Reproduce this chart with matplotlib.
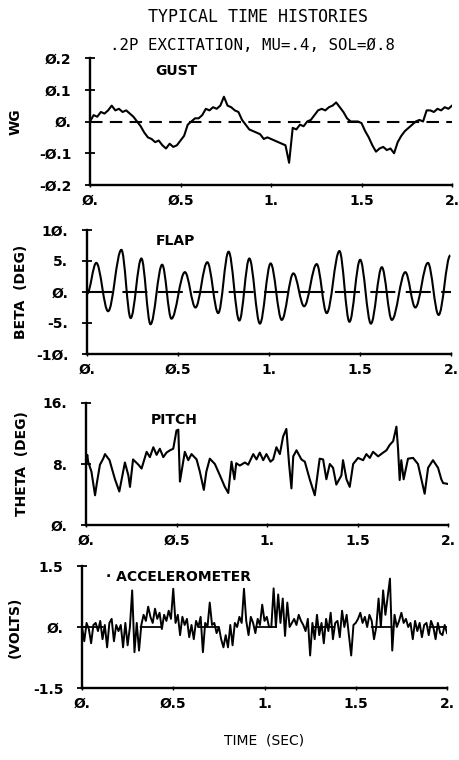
import numpy as np
import matplotlib
matplotlib.use("Agg")
import matplotlib.pyplot as plt
from matplotlib.path import Path
from matplotlib.patches import PathPatch

# gust velocity, sampled every 0.02 s
gust_t = np.arange(0, 2.001, 0.02)
gust_wg = [0.0, 0.02, 0.015, 0.03, 0.025, 0.035, 0.05, 0.035, 0.04, 0.03,
           0.035, 0.025, 0.015, 0.0, -0.015, -0.035, -0.05, -0.055, -0.065, -0.06,
           -0.075, -0.085, -0.07, -0.08, -0.075, -0.06, -0.045, -0.01, 0.0, 0.01,
           0.01, 0.02, 0.04, 0.035, 0.045, 0.04, 0.05, 0.078, 0.05, 0.045,
           0.035, 0.03, 0.005, -0.01, -0.025, -0.03, -0.035, -0.04, -0.055, -0.05,
           -0.055, -0.06, -0.065, -0.07, -0.075, -0.13, -0.02, -0.025, -0.01, -0.015,
           0.0, 0.005, 0.02, 0.035, 0.04, 0.035, 0.045, 0.05, 0.06, 0.045,
           0.03, 0.01, 0.0, 0.0, 0.0, -0.005, -0.03, -0.05, -0.075, -0.095,
           -0.085, -0.08, -0.09, -0.085, -0.1, -0.065, -0.045, -0.03, -0.02, -0.01,
           0.0, 0.005, 0.0, 0.035, 0.035, 0.03, 0.04, 0.035, 0.045, 0.04, 0.05]

# flap angle: start, then alternating peaks and troughs, then end
flap_t = [0.0, 0.051, 0.116, 0.189, 0.240, 0.299, 0.349, 0.413, 0.464, 0.538,
          0.596, 0.661, 0.721, 0.778, 0.837, 0.892, 0.950, 1.009, 1.070, 1.134,
          1.193, 1.262, 1.317, 1.387, 1.442, 1.501, 1.560, 1.620, 1.675, 1.749,
          1.804, 1.873, 1.932, 1.996]
flap_beta = [-0.3, 4.7, -3.1, 6.8, -4.2, 5.4, -5.2, 4.4, -4.3, 3.2,
             -2.5, 4.8, -3.4, 6.5, -4.6, 5.4, -5.1, 4.6, -4.5, 3.0,
             -2.3, 4.5, -3.4, 6.6, -4.8, 5.2, -5.1, 4.0, -4.5, 3.2,
             -2.5, 4.7, -3.7, 5.9]

# pitch angle
pitch_t = [0.0, 0.007, 0.012, 0.03, 0.05, 0.06, 0.077, 0.095, 0.105, 0.13,
           0.16, 0.184, 0.215, 0.234, 0.243, 0.26, 0.29, 0.307, 0.335, 0.353,
           0.372, 0.39, 0.408, 0.427, 0.445, 0.464, 0.482, 0.50, 0.51, 0.519,
           0.528, 0.546, 0.565, 0.583, 0.611, 0.629, 0.651, 0.665, 0.684, 0.712,
           0.74, 0.767, 0.786, 0.804, 0.82, 0.83, 0.85, 0.878, 0.896, 0.924,
           0.942, 0.96, 0.979, 0.997, 1.019, 1.034, 1.052, 1.071, 1.089, 1.107,
           1.122, 1.135, 1.145, 1.163, 1.19, 1.209, 1.236, 1.264, 1.291, 1.31,
           1.328, 1.347, 1.365, 1.383, 1.411, 1.42, 1.439, 1.457, 1.476, 1.503,
           1.531, 1.549, 1.568, 1.586, 1.614, 1.642, 1.66, 1.678, 1.697, 1.715,
           1.724, 1.733, 1.742, 1.755, 1.779, 1.807, 1.834, 1.853, 1.871, 1.89,
           1.917, 1.945, 1.963, 1.973, 1.996]
pitch_theta = [8.0, 9.2, 8.3, 7.0, 3.9, 5.5, 7.9, 8.7, 9.3, 8.5,
               6.0, 4.4, 8.2, 6.5, 5.0, 8.6, 7.9, 7.4, 9.6, 8.9,
               10.2, 9.2, 10.0, 8.9, 9.5, 9.8, 10.0, 12.4, 12.5, 5.7,
               7.0, 9.6, 8.5, 9.3, 8.6, 7.0, 4.6, 7.0, 8.7, 8.0,
               6.5, 5.0, 4.2, 8.3, 6.0, 8.1, 7.8, 8.2, 7.9, 9.3,
               8.6, 9.5, 8.5, 9.3, 8.3, 8.6, 10.2, 9.3, 11.6, 12.6,
               8.0, 4.8, 9.0, 9.8, 8.6, 8.3, 6.0, 3.9, 8.7, 8.6,
               6.0, 8.0, 7.5, 5.3, 6.5, 8.5, 6.0, 5.0, 8.0, 8.8,
               8.5, 9.3, 8.8, 9.6, 9.0, 9.5, 9.8, 10.5, 11.0, 12.9,
               10.0, 5.9, 8.5, 6.0, 8.7, 8.8, 8.0, 6.0, 4.1, 7.5,
               8.5, 7.5, 6.0, 5.5, 5.4]

# accelerometer, sampled every 0.0125 s
accel_t = np.arange(0, 2.0001, 0.0125)
accel_v = [0.0, -0.35, 0.1, -0.05, -0.4, 0.05, 0.1, -0.1,
           0.15, -0.3, 0.05, -0.5, 0.1, 0.2, -0.35, 0.05,
           -0.1, 0.05, -0.5, 0.1, -0.45, 0.0, 0.9, -0.62,
           0.1, -0.58, 0.05, 0.3, 0.15, 0.5, 0.25, 0.1,
           0.45, 0.2, 0.35, -0.05, 0.3, 0.15, 0.4, 0.2,
           0.94, 0.1, 0.3, -0.2, 0.25, 0.05, 0.2, -0.25,
           0.05, -0.3, 0.15, 0.0, 0.25, -0.62, 0.1, 0.0,
           0.6, 0.05, 0.1, -0.15, 0.0, -0.3, -0.5, -0.2,
           -0.5, 0.05, -0.45, 0.1, 0.0, 0.25, 0.1, 0.94,
           0.15, -0.2, 0.25, 0.1, -0.15, 0.2, 0.05, 0.55,
           0.15, 0.25, 0.0, 0.0, 0.95, 0.0, 0.8, 0.1,
           0.7, -0.22, 0.6, 0.0, 0.1, 0.2, 0.05, 0.3,
           0.15, 0.05, -0.1, 0.2, -0.7, 0.1, -0.3, 0.3,
           -0.2, 0.1, -0.4, 0.2, -0.1, 0.35, -0.3, 0.1,
           0.15, -0.25, 0.4, 0.0, 0.3, -0.2, -0.7, 0.05,
           0.1, 0.2, 0.35, 0.1, 0.25, 0.0, 0.3, 0.15,
           -0.3, 0.0, 0.7, 0.0, 0.9, 0.3, 0.75, 1.19,
           -0.58, 0.3, 0.0, 0.15, 0.35, 0.1, 0.2, 0.0,
           0.1, -0.3, 0.15, -0.1, 0.1, -0.25, 0.05, 0.1,
           -0.2, 0.15, 0.0, -0.3, 0.1, -0.15, -0.2, 0.05,
           -0.15]

xticks = [0, 0.5, 1, 1.5, 2]
xticklabels = ["Ø.", "Ø.5", "1.", "1.5", "2."]

gust_ticks = [-0.2, -0.1, 0, 0.1, 0.2]
gust_labels = ["-Ø.2", "-Ø.1", "Ø.", "Ø.1", "Ø.2"]
flap_ticks = [-10, -5, 0, 5, 10]
flap_labels = ["-1Ø.", "-5.", "Ø.", "5.", "1Ø."]
pitch_ticks = [0, 8, 16]
pitch_labels = ["Ø.", "8.", "16."]
accel_ticks = [-1.5, 0, 1.5]
accel_labels = ["-1.5", "Ø.", "1.5"]

W, H = 459, 760
fig = plt.figure(figsize=(W / 100, H / 100), dpi=100)

def px_axes(left, right, top, bottom):
    return fig.add_axes([left / W, 1 - bottom / H, (right - left) / W, (bottom - top) / H])

tick_font = dict(family="DejaVu Sans", weight="bold", size=10)
lab_font = dict(family="DejaVu Sans", weight="bold", size=10)

def style(ax, yt, yl, ylim):
    ax.set_xlim(0, 2)
    ax.set_ylim(*ylim)
    for s in ["top", "right"]:
        ax.spines[s].set_visible(False)
    ax.spines["left"].set_linewidth(1.7)
    ax.spines["bottom"].set_linewidth(1.7)
    ax.set_xticks(xticks)
    ax.set_xticklabels(xticklabels, **tick_font)
    ax.set_yticks(yt)
    ax.set_yticklabels(yl, **tick_font)
    ax.tick_params(axis="y", direction="inout", length=7, width=1.3, pad=10)
    ax.tick_params(axis="x", direction="inout", length=3, width=1.0, pad=5)
    ax.patch.set_visible(False)

def smooth_curve(ax, xs, ys, **kw):
    # smooth pen trace through the extrema, level tangent at each one
    verts = [(xs[0], ys[0])]
    codes = [Path.MOVETO]
    for i in range(1, len(xs)):
        d = xs[i] - xs[i - 1]
        verts += [(xs[i - 1] + 0.36 * d, ys[i - 1]), (xs[i] - 0.36 * d, ys[i]), (xs[i], ys[i])]
        codes += [Path.CURVE4] * 3
    ax.add_patch(PathPatch(Path(verts, codes), fill=False, **kw))

# panel 1: gust
ax1 = px_axes(90, 452, 58, 185)
ax1.plot(gust_t, gust_wg, color="black", lw=1.5)
ax1.axhline(0, color="black", lw=1.5, linestyle=(0, (6, 3.5)))
style(ax1, gust_ticks, gust_labels, (-0.2, 0.2))
ax1.text(0.36, 0.145, "GUST", **lab_font)
ax1.set_ylabel("WG", labelpad=12, **lab_font)

# panel 2: flap
ax2 = px_axes(87, 451, 230, 354)
smooth_curve(ax2, flap_t, flap_beta, edgecolor="black", lw=1.5)
ax2.axhline(0, color="black", lw=1.5, linestyle=(0, (12, 5)))
style(ax2, flap_ticks, flap_labels, (-10, 10))
ax2.text(0.38, 7.6, "FLAP", **lab_font)
ax2.set_ylabel("BETA  (DEG)", labelpad=6, **lab_font)

# panel 3: pitch
ax3 = px_axes(86, 448, 403, 525)
ax3.plot(pitch_t, pitch_theta, color="black", lw=1.5)
style(ax3, pitch_ticks, pitch_labels, (0, 16))
ax3.text(0.36, 13.3, "PITCH", **lab_font)
ax3.set_ylabel("THETA  (DEG)", labelpad=10, **lab_font)

# panel 4: accelerometer
ax4 = px_axes(82, 447, 566, 688)
ax4.plot(accel_t, accel_v, color="black", lw=1.4)
ax4.axhline(0, color="black", lw=1.3, linestyle=(0, (12, 20)))
style(ax4, accel_ticks, accel_labels, (-1.5, 1.5))
ax4.text(0.13, 1.12, "· ACCELEROMETER", **lab_font)
ax4.set_ylabel("(VOLTS)", labelpad=8, **lab_font)

fig.text(264 / W, 1 - 741 / H, "TIME  (SEC)", fontsize=10, family="DejaVu Sans",
         ha="center", va="center")
fig.text(258 / W, 1 - 17 / H, "TYPICAL TIME HISTORIES", fontsize=12,
         family="DejaVu Sans Mono", ha="center", va="center")
fig.text(252 / W, 1 - 45 / H, ".2P EXCITATION, MU=.4, SOL=Ø.8", fontsize=11.3,
         family="DejaVu Sans Mono", ha="center", va="center")

fig.savefig("out.png", dpi=100)
